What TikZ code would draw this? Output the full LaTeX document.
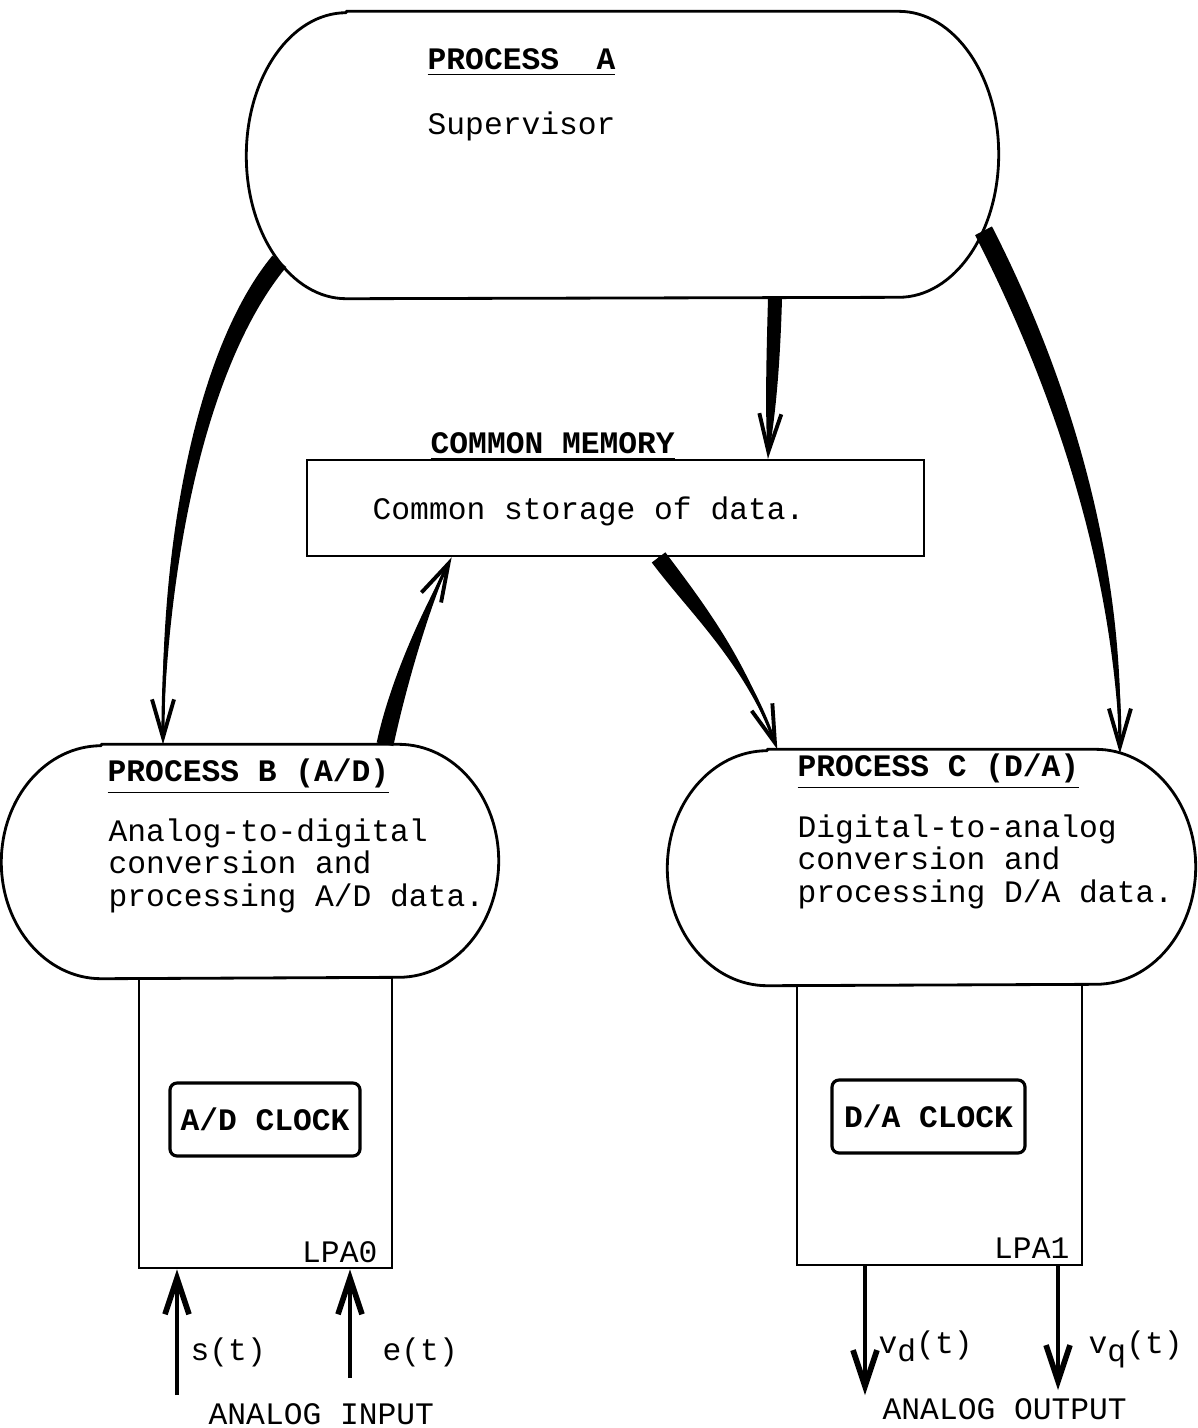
\documentclass[tikz,border=0pt]{standalone}
\usepackage{fontspec}
\setmainfont{Liberation Mono}[WordSpace={1,0,0},PunctuationSpace=WordSpace]
\usetikzlibrary{arrows.meta,calc}

% tapered stroke: start, control 1, control 2, end, half width at start, half width at control 2
\newcommand{\taperfill}[6]{%
  \fill ($(#1)!#5!90:(#2)$) .. controls ($(#2)!#5!-90:(#1)$) and ($(#3)!#6!90:(#4)$) .. (#4)
    .. controls ($(#3)!#6!-90:(#4)$) and ($(#2)!#5!90:(#1)$) .. ($(#1)!#5!-90:(#2)$) -- cycle;}
% outline with elliptic ends round a node: node, x radius, y radius
\newcommand{\stadium}[3]{%
  \draw[line width=0.8pt, line join=round] (#1.north west) -- (#1.north east)
    arc[start angle=90, end angle=-90, x radius=#2, y radius=#3] -- (#1.south west)
    arc[start angle=270, end angle=90, x radius=#2, y radius=#3] -- cycle;}

\begin{document}
\begin{tikzpicture}[font=\fontsize{8.9pt}{9.3pt}\selectfont,
    proc/.style={inner sep=0pt},
    box/.style={draw, line width=0.8pt, inner sep=0pt},
    clockbox/.style={draw, line width=0.9pt, rounded corners=2pt, inner sep=0pt, minimum height=0.73cm},
    txt/.style={anchor=base west, inner sep=0pt},
    flow/.style={-{Straight Barb[length=3.8mm, width=2.2mm, line width=1.1pt]}, line width=0.9pt},
    sig/.style={-{Straight Barb[length=3.6mm, width=2.4mm, line width=1.6pt]}, line width=1.2pt}]

    \useasboundingbox (0,0) rectangle (11.97,-14.28);

    % Processes
    \node[proc, minimum width=5.51cm, minimum height=2.86cm] (pa) at (6.225,-1.55) {};
    \node[proc, minimum width=2.96cm, minimum height=2.33cm] (pb) at (2.50,-8.615) {};
    \node[proc, minimum width=3.27cm, minimum height=2.35cm] (pc) at (9.315,-8.675) {};
    \stadium{pa}{1.0}{1.43}
    \stadium{pb}{1.0}{1.165}
    \stadium{pc}{1.0}{1.175}

    % Common memory
    \node[box, minimum width=6.17cm, minimum height=0.96cm] (cm) at (6.155,-5.08) {};

    % Converter boxes
    \node[box, minimum width=2.53cm, minimum height=2.90cm] (lpa0) at (2.655,-11.23) {};
    \node[box, minimum width=2.85cm, minimum height=2.80cm] (lpa1) at (9.395,-11.25) {};
    \node[clockbox, minimum width=1.90cm] (adclk) at (2.65,-11.195) {\textbf{A/D CLOCK}};
    \node[clockbox, minimum width=1.93cm] (daclk) at (9.285,-11.165) {\textbf{D/A CLOCK}};

    % Texts
    \node[txt] (pahead) at (4.27,-0.69) {\underline{\textbf{PROCESS\ \ A}}};
    \node[txt] (patext) at (4.27,-1.34) {Supervisor};
    \node[txt] (cmhead) at (4.30,-4.53) {\underline{\textbf{COMMON MEMORY}}};
    \node[txt] (cmtext) at (3.72,-5.19) {Common storage of data.};
    \node[txt] (pbhead) at (1.07,-7.81) {\underline{\textbf{PROCESS B (A/D)}}};
    \node[txt] (pbtext) at (1.08,-8.41) {\begin{tabular}[t]{@{}l@{}}Analog-to-digital\\conversion and\\processing A/D data.\end{tabular}};
    \node[txt] (pchead) at (7.97,-7.76) {\underline{\textbf{PROCESS C (D/A)}}};
    \node[txt] (pctext) at (7.97,-8.37) {\begin{tabular}[t]{@{}l@{}}Digital-to-analog\\conversion and\\processing D/A data.\end{tabular}};
    \node[anchor=base east, inner sep=0pt] (lpa0lbl) at (3.78,-12.62) {LPA0};
    \node[anchor=base east, inner sep=0pt] (lpa1lbl) at (10.70,-12.58) {LPA1};

    % Supervisor -> A/D
    \coordinate (ab0) at ($(pa.west)+(228:1.0 and 1.43)$);
    \coordinate (ab1) at (2.02,-3.55);
    \coordinate (ab2) at (1.63,-5.5);
    \coordinate (ab3) at ($(pb.north)+(-0.87,0)$);
    \taperfill{ab0}{ab1}{ab2}{ab3}{0.09cm}{0.05cm}
    \draw[flow] (ab0) .. controls (ab1) and (ab2) .. (ab3);

    % Supervisor -> D/A
    \coordinate (ac0) at ($(pa.east)+(-32:1.0 and 1.43)$);
    \coordinate (ac1) at (10.7,-4.0);
    \coordinate (ac2) at (11.2,-5.8);
    \coordinate (ac3) at ($(pc.east)+(76:1.0 and 1.175)$);
    \taperfill{ac0}{ac1}{ac2}{ac3}{0.095cm}{0.06cm}
    \draw[flow] (ac0) .. controls (ac1) and (ac2) .. (ac3);

    % Supervisor -> memory
    \coordinate (am0) at ($(pa.south)+(1.525,0)$);
    \coordinate (am1) at (7.73,-3.7);
    \coordinate (am2) at (7.70,-4.2);
    \coordinate (am3) at ($(cm.north)+(1.525,0)$);
    \taperfill{am0}{am1}{am2}{am3}{0.07cm}{0.05cm}
    \draw[flow] (am0) .. controls (am1) and (am2) .. (am3);

    % A/D -> memory
    \coordinate (bm0) at ($(pb.north)+(1.35,0)$);
    \coordinate (bm1) at (4.0,-6.75);
    \coordinate (bm2) at (4.3,-6.0);
    \coordinate (bm3) at ($(cm.south west)+(1.46,0)$);
    \taperfill{bm0}{bm1}{bm2}{bm3}{0.085cm}{0.02cm}
    \draw[flow] (bm0) .. controls (bm1) and (bm2) .. (bm3);

    % memory -> D/A
    \coordinate (mc0) at ($(cm.south west)+(3.53,0)$);
    \coordinate (mc1) at (6.98,-6.1);
    \coordinate (mc2) at (7.45,-6.6);
    \coordinate (mc3) at ($(pc.north west)+(0.10,0)$);
    \taperfill{mc0}{mc1}{mc2}{mc3}{0.085cm}{0.02cm}
    \draw[flow] (mc0) .. controls (mc1) and (mc2) .. (mc3);

    % Analog signals
    \coordinate (sin) at (1.77,-13.95);
    \coordinate (ein) at (3.50,-13.78);
    \coordinate (vdout) at (8.65,-13.95);
    \coordinate (vqout) at (10.58,-13.90);
    \draw[sig] (sin) -- (sin |- lpa0.south);
    \draw[sig] (ein) -- (ein |- lpa0.south);
    \draw[sig] (vdout |- lpa1.south) -- (vdout);
    \draw[sig] (vqout |- lpa1.south) -- (vqout);
    \node[txt] (slbl) at (1.90,-13.60) {s(t)};
    \node[txt] (elbl) at (3.82,-13.60) {e(t)};
    \node[txt] (vdlbl) at (8.78,-13.53) {v\raisebox{-0.5ex}{d}(t)};
    \node[txt] (vqlbl) at (10.88,-13.53) {v\raisebox{-0.5ex}{q}(t)};
    \node[txt] (inlbl) at (2.08,-14.24) {ANALOG INPUT};
    \node[txt] (outlbl) at (8.82,-14.19) {ANALOG OUTPUT};
\end{tikzpicture}
\end{document}
